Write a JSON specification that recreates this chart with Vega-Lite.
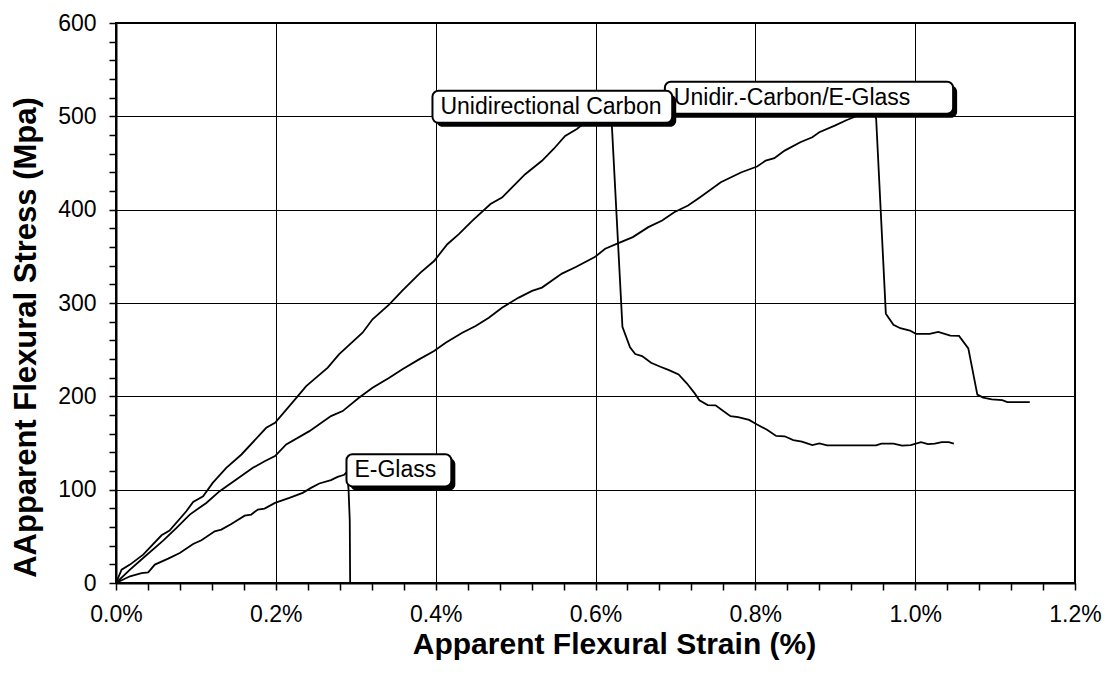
{
  "$schema": "https://vega.github.io/schema/vega-lite/v6.json",
  "width": 959,
  "height": 560,
  "autosize": {"type": "none"},
  "padding": {"left": 116, "top": 23, "right": 31, "bottom": 96},
  "background": "white",
  "config": {"view": {"stroke": "black", "strokeWidth": 2}, "font": "Liberation Sans"},
  "layer": [
    {
      "data": {"values": [
        {"s": "UC", "x": 0, "y": 0}, {"s": "UC", "x": 0.007, "y": 14.3}, {"s": "UC", "x": 0.0175, "y": 19.7}, {"s": "UC", "x": 0.034, "y": 30.4}, {"s": "UC", "x": 0.057, "y": 51.1}, {"s": "UC", "x": 0.067, "y": 56.2}, {"s": "UC", "x": 0.088, "y": 76.9}, {"s": "UC", "x": 0.0965, "y": 86.9}, {"s": "UC", "x": 0.109, "y": 93}, {"s": "UC", "x": 0.121, "y": 107.3}, {"s": "UC", "x": 0.138, "y": 123.4}, {"s": "UC", "x": 0.157, "y": 137.7}, {"s": "UC", "x": 0.188, "y": 166.3}, {"s": "UC", "x": 0.199, "y": 171.7}, {"s": "UC", "x": 0.223, "y": 195.6}, {"s": "UC", "x": 0.238, "y": 211}, {"s": "UC", "x": 0.265, "y": 230.7}, {"s": "UC", "x": 0.279, "y": 245}, {"s": "UC", "x": 0.3085, "y": 268.2}, {"s": "UC", "x": 0.321, "y": 282.5}, {"s": "UC", "x": 0.342, "y": 298.6}, {"s": "UC", "x": 0.358, "y": 313}, {"s": "UC", "x": 0.381, "y": 332.6}, {"s": "UC", "x": 0.398, "y": 345}, {"s": "UC", "x": 0.4146, "y": 363}, {"s": "UC", "x": 0.429, "y": 373.7}, {"s": "UC", "x": 0.4457, "y": 388}, {"s": "UC", "x": 0.4686, "y": 406}, {"s": "UC", "x": 0.483, "y": 413}, {"s": "UC", "x": 0.512, "y": 438}, {"s": "UC", "x": 0.533, "y": 452.4}, {"s": "UC", "x": 0.5476, "y": 465}, {"s": "UC", "x": 0.562, "y": 479}, {"s": "UC", "x": 0.5767, "y": 486.4}, {"s": "UC", "x": 0.592, "y": 497}, {"s": "UC", "x": 0.605, "y": 505}, {"s": "UC", "x": 0.619, "y": 507}, {"s": "UC", "x": 0.6207, "y": 486.5}, {"s": "UC", "x": 0.6337, "y": 274.5}, {"s": "UC", "x": 0.6432, "y": 252.5}, {"s": "UC", "x": 0.6497, "y": 245.3}, {"s": "UC", "x": 0.6583, "y": 243.2}, {"s": "UC", "x": 0.6695, "y": 236}, {"s": "UC", "x": 0.6812, "y": 231.7}, {"s": "UC", "x": 0.692, "y": 228}, {"s": "UC", "x": 0.704, "y": 223.4}, {"s": "UC", "x": 0.7145, "y": 213.7}, {"s": "UC", "x": 0.7244, "y": 202.9}, {"s": "UC", "x": 0.73, "y": 195.7}, {"s": "UC", "x": 0.7404, "y": 190.6}, {"s": "UC", "x": 0.7503, "y": 190.3}, {"s": "UC", "x": 0.759, "y": 184.9}, {"s": "UC", "x": 0.7689, "y": 178.8}, {"s": "UC", "x": 0.7784, "y": 177.7}, {"s": "UC", "x": 0.7922, "y": 174.8}, {"s": "UC", "x": 0.8022, "y": 169.8}, {"s": "UC", "x": 0.8151, "y": 164}, {"s": "UC", "x": 0.826, "y": 157.6}, {"s": "UC", "x": 0.8367, "y": 157.2}, {"s": "UC", "x": 0.8475, "y": 153.2}, {"s": "UC", "x": 0.8583, "y": 151.4}, {"s": "UC", "x": 0.8713, "y": 147.8}, {"s": "UC", "x": 0.88, "y": 149.6}, {"s": "UC", "x": 0.8899, "y": 147.5}, {"s": "UC", "x": 0.9512, "y": 147.5}, {"s": "UC", "x": 0.9577, "y": 149.3}, {"s": "UC", "x": 0.9728, "y": 149.3}, {"s": "UC", "x": 0.9836, "y": 147.1}, {"s": "UC", "x": 0.9944, "y": 147.8}, {"s": "UC", "x": 1.0073, "y": 151}, {"s": "UC", "x": 1.016, "y": 148.9}, {"s": "UC", "x": 1.0246, "y": 149.3}, {"s": "UC", "x": 1.0333, "y": 151}, {"s": "UC", "x": 1.042, "y": 151}, {"s": "UC", "x": 1.0484, "y": 149.3},
        {"s": "HY", "x": 0, "y": 0}, {"s": "HY", "x": 0.0175, "y": 14.3}, {"s": "HY", "x": 0.034, "y": 26.8}, {"s": "HY", "x": 0.059, "y": 45.4}, {"s": "HY", "x": 0.0757, "y": 59}, {"s": "HY", "x": 0.0923, "y": 73.3}, {"s": "HY", "x": 0.113, "y": 85.8}, {"s": "HY", "x": 0.1297, "y": 98.4}, {"s": "HY", "x": 0.1505, "y": 110.9}, {"s": "HY", "x": 0.1713, "y": 123.4}, {"s": "HY", "x": 0.186, "y": 130.5}, {"s": "HY", "x": 0.199, "y": 136}, {"s": "HY", "x": 0.213, "y": 148.4}, {"s": "HY", "x": 0.242, "y": 162.7}, {"s": "HY", "x": 0.269, "y": 178.8}, {"s": "HY", "x": 0.2836, "y": 184.2}, {"s": "HY", "x": 0.304, "y": 198.5}, {"s": "HY", "x": 0.321, "y": 209.2}, {"s": "HY", "x": 0.342, "y": 220}, {"s": "HY", "x": 0.3584, "y": 229}, {"s": "HY", "x": 0.3792, "y": 239.6}, {"s": "HY", "x": 0.398, "y": 248.6}, {"s": "HY", "x": 0.4125, "y": 257.5}, {"s": "HY", "x": 0.4333, "y": 268.2}, {"s": "HY", "x": 0.45, "y": 275.4}, {"s": "HY", "x": 0.4665, "y": 284.3}, {"s": "HY", "x": 0.483, "y": 295}, {"s": "HY", "x": 0.504, "y": 305.8}, {"s": "HY", "x": 0.5206, "y": 313}, {"s": "HY", "x": 0.533, "y": 316.5}, {"s": "HY", "x": 0.558, "y": 331.5}, {"s": "HY", "x": 0.5754, "y": 338.5}, {"s": "HY", "x": 0.5991, "y": 349.2}, {"s": "HY", "x": 0.6121, "y": 358.1}, {"s": "HY", "x": 0.6294, "y": 364.5}, {"s": "HY", "x": 0.6467, "y": 370.6}, {"s": "HY", "x": 0.6661, "y": 381.3}, {"s": "HY", "x": 0.6834, "y": 388.4}, {"s": "HY", "x": 0.6985, "y": 397.3}, {"s": "HY", "x": 0.7158, "y": 404.5}, {"s": "HY", "x": 0.7309, "y": 413.4}, {"s": "HY", "x": 0.7568, "y": 429.4}, {"s": "HY", "x": 0.7827, "y": 440.1}, {"s": "HY", "x": 0.8022, "y": 446.2}, {"s": "HY", "x": 0.813, "y": 452.6}, {"s": "HY", "x": 0.8238, "y": 455.1}, {"s": "HY", "x": 0.8367, "y": 463.3}, {"s": "HY", "x": 0.8562, "y": 472.2}, {"s": "HY", "x": 0.8713, "y": 477.5}, {"s": "HY", "x": 0.88, "y": 482.9}, {"s": "HY", "x": 0.8994, "y": 490}, {"s": "HY", "x": 0.9145, "y": 496.1}, {"s": "HY", "x": 0.935, "y": 503}, {"s": "HY", "x": 0.949, "y": 508}, {"s": "HY", "x": 0.9512, "y": 497.1}, {"s": "HY", "x": 0.9633, "y": 288.6}, {"s": "HY", "x": 0.9728, "y": 276.6}, {"s": "HY", "x": 0.9814, "y": 273}, {"s": "HY", "x": 0.9935, "y": 270.5}, {"s": "HY", "x": 1.0009, "y": 266.9}, {"s": "HY", "x": 1.0181, "y": 266.9}, {"s": "HY", "x": 1.0289, "y": 269.1}, {"s": "HY", "x": 1.044, "y": 265.1}, {"s": "HY", "x": 1.0549, "y": 264.7}, {"s": "HY", "x": 1.0665, "y": 251.4}, {"s": "HY", "x": 1.0778, "y": 201.8}, {"s": "HY", "x": 1.0851, "y": 198.6}, {"s": "HY", "x": 1.0959, "y": 196.8}, {"s": "HY", "x": 1.1089, "y": 196}, {"s": "HY", "x": 1.1153, "y": 193.9}, {"s": "HY", "x": 1.1434, "y": 193.9},
        {"s": "EG", "x": 0, "y": 0}, {"s": "EG", "x": 0.0175, "y": 7.2}, {"s": "EG", "x": 0.032, "y": 10.7}, {"s": "EG", "x": 0.0403, "y": 11.4}, {"s": "EG", "x": 0.0486, "y": 19.7}, {"s": "EG", "x": 0.0653, "y": 26.1}, {"s": "EG", "x": 0.0798, "y": 32.2}, {"s": "EG", "x": 0.0965, "y": 41.8}, {"s": "EG", "x": 0.1069, "y": 45.8}, {"s": "EG", "x": 0.1235, "y": 55.4}, {"s": "EG", "x": 0.1318, "y": 57.2}, {"s": "EG", "x": 0.1443, "y": 63.3}, {"s": "EG", "x": 0.161, "y": 72.2}, {"s": "EG", "x": 0.1692, "y": 73.3}, {"s": "EG", "x": 0.1775, "y": 78.7}, {"s": "EG", "x": 0.1859, "y": 79.8}, {"s": "EG", "x": 0.199, "y": 85.8}, {"s": "EG", "x": 0.217, "y": 91.2}, {"s": "EG", "x": 0.2336, "y": 96.6}, {"s": "EG", "x": 0.244, "y": 101.9}, {"s": "EG", "x": 0.2544, "y": 106.6}, {"s": "EG", "x": 0.269, "y": 110.2}, {"s": "EG", "x": 0.2773, "y": 113.7}, {"s": "EG", "x": 0.2856, "y": 116}, {"s": "EG", "x": 0.289, "y": 119}, {"s": "EG", "x": 0.291, "y": 100}, {"s": "EG", "x": 0.2925, "y": 67}, {"s": "EG", "x": 0.293, "y": 0}
      ]},
      "mark": {"type": "line", "color": "black", "strokeWidth": 1.8},
      "encoding": {
        "x": {
          "field": "x", "type": "quantitative",
          "scale": {"domain": [0, 1.2], "nice": false, "zero": false},
          "axis": {
            "title": "Apparent Flexural Strain (%)",
            "values": [0, 0.04, 0.08, 0.12, 0.16, 0.2, 0.24, 0.28, 0.32, 0.36, 0.4, 0.44, 0.48, 0.52, 0.56, 0.6, 0.64, 0.68, 0.72, 0.76, 0.8, 0.84, 0.88, 0.92, 0.96, 1.0, 1.04, 1.08, 1.12, 1.16, 1.2],
            "tickCount": 200,
            "labelExpr": "abs(datum.value*5 - round(datum.value*5)) < 0.001 ? format(datum.value, '.1f') + '%' : ''",
            "grid": true,
            "gridColor": "black",
            "gridWidth": 1,
            "gridOpacity": {"condition": {"test": "abs(datum.value*5 - round(datum.value*5)) < 0.001", "value": 1}, "value": 0},
            "domainColor": "black", "domainWidth": 2,
            "tickColor": "black", "tickWidth": 1.5, "tickSize": 7,
            "labelFontSize": 23, "labelColor": "black", "labelPadding": 13, "labelFont": "Liberation Sans",
            "labelFlush": false, "labelOverlap": false,
            "titleFontSize": 30, "titleFontWeight": "bold", "titleColor": "black", "titleFont": "Liberation Sans",
            "titleX": 498, "titleY": 61, "titleBaseline": "middle", "titleAlign": "center"
          }
        },
        "y": {
          "field": "y", "type": "quantitative",
          "scale": {"domain": [0, 600], "nice": false},
          "axis": {
            "title": "AApparent Flexural Stress (Mpa)",
            "values": [0, 20, 40, 60, 80, 100, 120, 140, 160, 180, 200, 220, 240, 260, 280, 300, 320, 340, 360, 380, 400, 420, 440, 460, 480, 500, 520, 540, 560, 580, 600],
            "tickCount": 200,
            "labelExpr": "datum.value % 100 == 0 ? format(datum.value, 'd') : ''",
            "grid": true,
            "gridColor": "black",
            "gridWidth": 1,
            "gridOpacity": {"condition": {"test": "datum.value % 100 == 0", "value": 1}, "value": 0},
            "domainColor": "black", "domainWidth": 2,
            "tickColor": "black", "tickWidth": 1.5, "tickSize": 7,
            "labelFontSize": 23, "labelColor": "black", "labelPadding": 13, "labelFont": "Liberation Sans",
            "labelFlush": false, "labelOverlap": false,
            "titleFontSize": 31, "titleFontWeight": "bold", "titleColor": "black", "titleFont": "Liberation Sans",
            "titleX": -90, "titleY": 314, "titleBaseline": "middle", "titleAlign": "center", "titleAngle": 270
          }
        },
        "detail": {"field": "s"},
        "order": {"value": null}
      }
    },
    {
      "data": {"values": [{"x": 0.6868, "x2": 1.0475, "y": 537, "y2": 502.7, "t": "Unidir.-Carbon/E-Glass"}]},
      "layer": [
        {"mark": {"type": "rect", "fill": "black", "cornerRadius": 6, "xOffset": 4, "x2Offset": 4, "yOffset": 4, "y2Offset": 4},
         "encoding": {"x": {"field": "x", "type": "quantitative"}, "x2": {"field": "x2"}, "y": {"field": "y", "type": "quantitative"}, "y2": {"field": "y2"}}},
        {"mark": {"type": "rect", "fill": "white", "stroke": "black", "strokeWidth": 2, "cornerRadius": 6},
         "encoding": {"x": {"field": "x", "type": "quantitative"}, "x2": {"field": "x2"}, "y": {"field": "y", "type": "quantitative"}, "y2": {"field": "y2"}}},
        {"mark": {"type": "text", "align": "left", "baseline": "middle", "dx": 9, "dy": 16, "fontSize": 23, "font": "Liberation Sans", "color": "black"},
         "encoding": {"x": {"field": "x", "type": "quantitative"}, "y": {"field": "y", "type": "quantitative"}, "text": {"field": "t"}}}
      ]
    },
    {
      "data": {"values": [{"x": 0.396, "x2": 0.696, "y": 527.4, "y2": 493, "t": "Unidirectional Carbon"}]},
      "layer": [
        {"mark": {"type": "rect", "fill": "black", "cornerRadius": 6, "xOffset": 4, "x2Offset": 4, "yOffset": 4, "y2Offset": 4},
         "encoding": {"x": {"field": "x", "type": "quantitative"}, "x2": {"field": "x2"}, "y": {"field": "y", "type": "quantitative"}, "y2": {"field": "y2"}}},
        {"mark": {"type": "rect", "fill": "white", "stroke": "black", "strokeWidth": 2, "cornerRadius": 6},
         "encoding": {"x": {"field": "x", "type": "quantitative"}, "x2": {"field": "x2"}, "y": {"field": "y", "type": "quantitative"}, "y2": {"field": "y2"}}},
        {"mark": {"type": "text", "align": "left", "baseline": "middle", "dx": 8, "dy": 16, "fontSize": 23, "font": "Liberation Sans", "color": "black"},
         "encoding": {"x": {"field": "x", "type": "quantitative"}, "y": {"field": "y", "type": "quantitative"}, "text": {"field": "t"}}}
      ]
    },
    {
      "data": {"values": [{"x": 0.2884, "x2": 0.4196, "y": 137.9, "y2": 103.5, "t": "E-Glass"}]},
      "layer": [
        {"mark": {"type": "rect", "fill": "black", "cornerRadius": 6, "xOffset": 4, "x2Offset": 4, "yOffset": 4, "y2Offset": 4},
         "encoding": {"x": {"field": "x", "type": "quantitative"}, "x2": {"field": "x2"}, "y": {"field": "y", "type": "quantitative"}, "y2": {"field": "y2"}}},
        {"mark": {"type": "rect", "fill": "white", "stroke": "black", "strokeWidth": 2, "cornerRadius": 6},
         "encoding": {"x": {"field": "x", "type": "quantitative"}, "x2": {"field": "x2"}, "y": {"field": "y", "type": "quantitative"}, "y2": {"field": "y2"}}},
        {"mark": {"type": "text", "align": "left", "baseline": "middle", "dx": 8, "dy": 16, "fontSize": 23, "font": "Liberation Sans", "color": "black"},
         "encoding": {"x": {"field": "x", "type": "quantitative"}, "y": {"field": "y", "type": "quantitative"}, "text": {"field": "t"}}}
      ]
    }
  ]
}
